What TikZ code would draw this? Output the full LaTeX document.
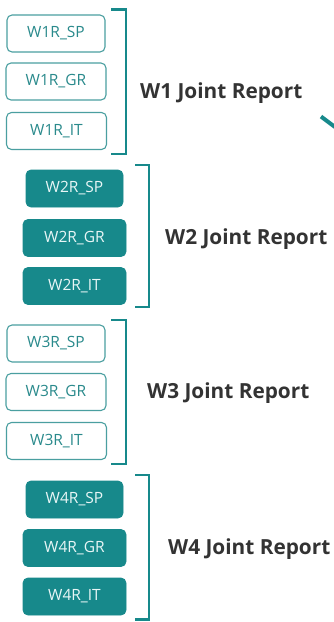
\documentclass[tikz,border=0pt]{standalone}
\usepackage{fontspec}
\setmainfont{Open Sans}
\definecolor{teal1}{HTML}{17898B}
\definecolor{tealtxt}{HTML}{2A8A8C}
\definecolor{tealline}{HTML}{4A9FA0}
\definecolor{titlegray}{HTML}{333333}
\definecolor{paletxt}{HTML}{E8F6F6}
\tikzset{
  outbox/.style={draw=tealline, line width=1.1pt, rounded corners=5pt, fill=white,
    text=tealtxt, font=\fontsize{15.5}{17}\selectfont, minimum height=37pt, inner sep=0pt},
  fillbox/.style={draw=teal1, line width=0.8pt, rounded corners=5pt, fill=teal1,
    text=paletxt, font=\fontsize{15.5}{17}\selectfont, minimum height=37pt, inner sep=0pt},
  brk/.style={draw=teal1, line width=2.4pt, line cap=butt},
  ttl/.style={anchor=west, text=titlegray, font=\fontsize{20.8}{24}\selectfont\bfseries, inner sep=0pt}
}
\begin{document}
\begin{tikzpicture}[x=1pt,y=-1pt]
\useasboundingbox[fill=white] (0,0) rectangle (333,622);
% group 1
\node[outbox, minimum width=98pt] (w1sp) at (56,33.5) {W1R\_SP};
\node[outbox, minimum width=100pt] (w1gr) at (56,81.5) {W1R\_GR};
\node[outbox, minimum width=100pt] (w1it) at (56.5,131) {W1R\_IT};
\draw[brk] (111,9.5) -- (126,9.5) -- (126,154) -- (111,154);
\node[ttl] (t1) at (140,93) {W1 Joint Report};
% group 2
\node[fillbox, minimum width=97pt] (w2sp) at (74.5,188.5) {W2R\_SP};
\node[fillbox, minimum width=103pt] (w2gr) at (74.5,238) {W2R\_GR};
\node[fillbox, minimum width=103pt] (w2it) at (74.5,286) {W2R\_IT};
\draw[brk] (135,165) -- (149,165) -- (149,307) -- (135,307);
\node[ttl] (t2) at (165,239) {W2 Joint Report};
% group 3
\node[outbox, minimum width=98pt] (w3sp) at (56,343.5) {W3R\_SP};
\node[outbox, minimum width=100pt] (w3gr) at (56,392) {W3R\_GR};
\node[outbox, minimum width=100pt] (w3it) at (56.5,441) {W3R\_IT};
\draw[brk] (111,320) -- (126,320) -- (126,464) -- (111,464);
\node[ttl] (t3) at (147,393) {W3 Joint Report};
% group 4
\node[fillbox, minimum width=97pt] (w4sp) at (74.5,499.5) {W4R\_SP};
\node[fillbox, minimum width=103pt] (w4gr) at (74.5,548) {W4R\_GR};
\node[fillbox, minimum width=103pt] (w4it) at (74.5,596.5) {W4R\_IT};
\draw[brk] (135,475) -- (149,475) -- (149,619.5) -- (135,619.5);
\node[ttl] (t4) at (168,549) {W4 Joint Report};
% cropped arrow fragment
\coordinate (a1) at (321,116.5);
\coordinate (a2) at (335,127);
\draw[teal1, line width=4pt] (a1) -- (a2);
\end{tikzpicture}
\end{document}
